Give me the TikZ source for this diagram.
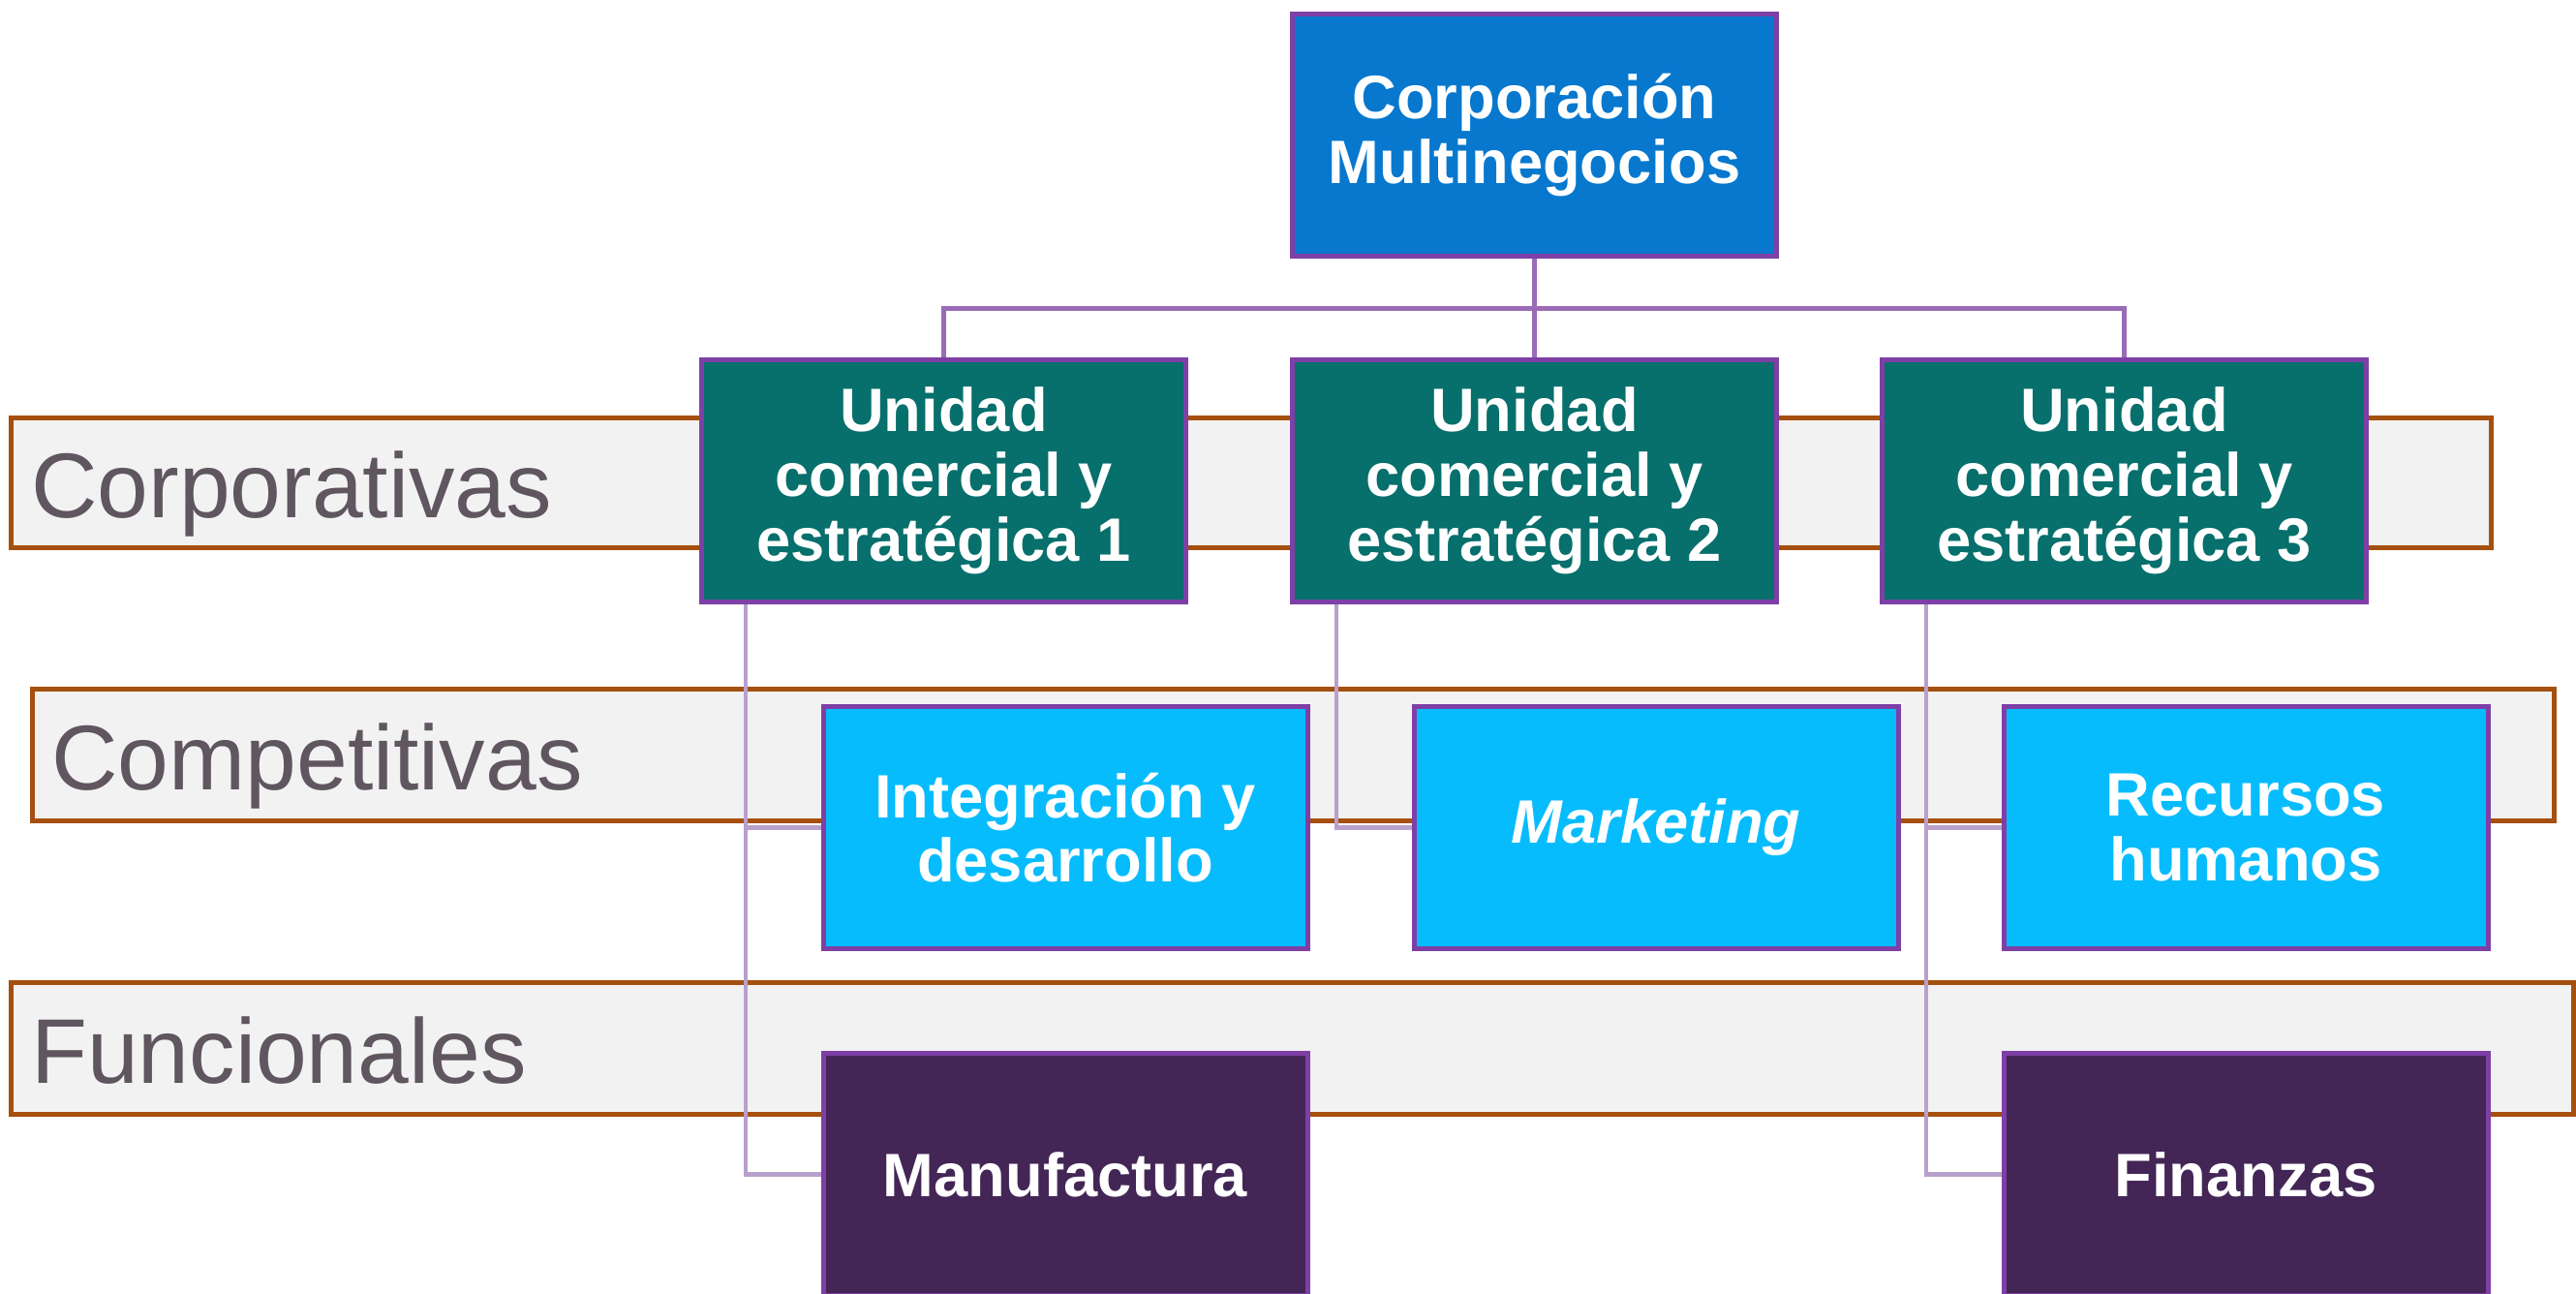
\documentclass[tikz,border=0pt]{standalone}
\usepackage{fontspec}
\setmainfont{Liberation Sans}
\usepackage{tikz}
\usetikzlibrary{calc}
\usepackage{xcolor}
\definecolor{corpblue}{HTML}{0778CE}
\definecolor{unitteal}{HTML}{076F6C}
\definecolor{compcyan}{HTML}{07BCFC}
\definecolor{funcplum}{HTML}{432656}
\definecolor{boxedge}{HTML}{7E3FA6}
\definecolor{barfill}{HTML}{F2F2F2}
\definecolor{baredge}{HTML}{A5500F}
\definecolor{busline}{HTML}{9A6BB6}
\definecolor{subline}{HTML}{B8A0CC}
\definecolor{labelgray}{HTML}{5F565F}

\begin{document}
\begin{tikzpicture}[
  orgbox/.style={rectangle,draw=boxedge,line width=0.05cm,minimum width=5.0cm,minimum height=2.5cm,
    inner sep=0pt,align=center,text=white,font=\fontsize{18}{19}\selectfont\bfseries},
  levelbar/.style={rectangle,draw=baredge,fill=barfill,line width=0.05cm,inner sep=0pt},
  levellabel/.style={inner sep=0pt,text=labelgray,font=\fontsize{27}{30}\selectfont},
  busedge/.style={draw=busline,line width=0.05cm},
  subedge/.style={draw=subline,line width=0.045cm}]
  \useasboundingbox (0,0) rectangle (26.6,-13.35);
  % franjas de nivel
  \node (lvcorp) at (12.92,-4.98) [levelbar,minimum width=25.6cm,minimum height=1.34cm] {};
  \node (lvcomp) at (13.355,-7.79) [levelbar,minimum width=26.03cm,minimum height=1.36cm] {};
  \node (lvfunc) at (13.345,-10.82) [levelbar,minimum width=26.45cm,minimum height=1.36cm] {};
  \node (lbcorp) at ([xshift=0.22cm,yshift=-0.36cm]lvcorp.west) [levellabel,anchor=base west] {Corporativas};
  \node (lbcomp) at ([xshift=0.21cm,yshift=-0.36cm]lvcomp.west) [levellabel,anchor=base west] {Competitivas};
  \node (lbfunc) at ([xshift=0.22cm,yshift=-0.36cm]lvfunc.west) [levellabel,anchor=base west] {Funcionales};
  % cajas
  \node (corp) at (15.845,-1.395) [orgbox,fill=corpblue] {Corporación\\Multinegocios};
  \node (u1) at (9.745,-4.96) [orgbox,fill=unitteal] {Unidad\\comercial y\\estratégica 1};
  \node (u2) at (15.845,-4.96) [orgbox,fill=unitteal] {Unidad\\comercial y\\estratégica 2};
  \node (u3) at (21.935,-4.96) [orgbox,fill=unitteal] {Unidad\\comercial y\\estratégica 3};
  \node (integ) at (11.0,-8.545) [orgbox,fill=compcyan] {Integración y\\desarrollo};
  \node (mkt) at (17.1,-8.545) [orgbox,fill=compcyan] {\itshape Marketing};
  \node (rrhh) at (23.19,-8.545) [orgbox,fill=compcyan] {Recursos\\humanos};
  \node (manuf) at (11.0,-12.125) [orgbox,fill=funcplum] {Manufactura};
  \node (finan) at (23.19,-12.125) [orgbox,fill=funcplum] {Finanzas};
  % conectores
  \draw[busedge] (corp.south) -- (u2.north);
  \draw[busedge] (corp.south) ++(0,-0.51) -| (u1.north);
  \draw[busedge] (corp.south) ++(0,-0.51) -| (u3.north);
  \draw[subedge] ([xshift=0.48cm]u1.south west) |- (integ.west);
  \draw[subedge] ([xshift=0.48cm]u1.south west) |- (manuf.west);
  \draw[subedge] ([xshift=0.48cm]u2.south west) |- (mkt.west);
  \draw[subedge] ([xshift=0.48cm]u3.south west) |- (rrhh.west);
  \draw[subedge] ([xshift=0.48cm]u3.south west) |- (finan.west);
\end{tikzpicture}
\end{document}
